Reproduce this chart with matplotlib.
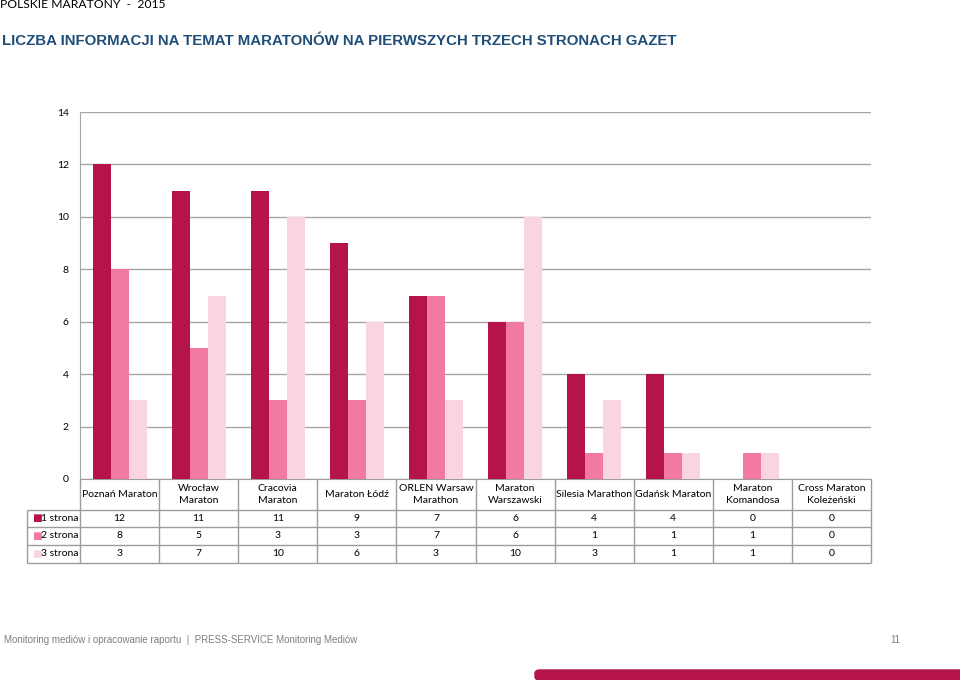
import matplotlib.pyplot as plt
from matplotlib.patches import FancyBboxPatch

categories = ['Poznań Maraton', 'Wrocław\nMaraton', 'Cracovia\nMaraton', 'Maraton Łódź',
              'ORLEN Warsaw\nMarathon', 'Maraton\nWarszawski', 'Silesia Marathon',
              'Gdańsk Maraton', 'Maraton\nKomandosa', 'Cross Maraton\nKoleżeński']
series_names = ['1 strona', '2 strona', '3 strona']
strona1 = [12, 11, 11, 9, 7, 6, 4, 4, 0, 0]
strona2 = [8, 5, 3, 3, 7, 6, 1, 1, 1, 0]
strona3 = [3, 7, 10, 6, 3, 10, 3, 1, 1, 0]
yticks = [0, 2, 4, 6, 8, 10, 12, 14]

colors = ['#B5134B', '#F279A1', '#FBD4E1']
series = [strona1, strona2, strona3]
txt_font = ['Lato', 'DejaVu Sans']
narrow = ['Liberation Sans Narrow', 'Liberation Sans']
grid_c = '#A6A6A6'
tab_c = '#9C9C9C'

fig = plt.figure(figsize=(9.6, 6.8), dpi=100)
ax = fig.add_axes([80 / 960, 1 - 479 / 680, 791 / 960, 367 / 680])

n = len(categories)
bw = 0.2275
for k, vals in enumerate(series):
    xs = [i + (k - 1) * bw for i in range(n)]
    ax.bar(xs, vals, width=bw, color=colors[k], zorder=3)

ax.set_xlim(-0.5, n - 0.5)
ax.set_ylim(0, 14)
ax.set_yticks(yticks)
ax.set_yticklabels([str(t) for t in yticks], family=txt_font, fontsize=7.5)
ax.set_xticks([])
ax.tick_params(axis='y', length=0, pad=8)
ax.yaxis.grid(True, color=grid_c, linewidth=1, zorder=0)
for s in ['top', 'right']:
    ax.spines[s].set_visible(False)
ax.spines['left'].set_color(grid_c)
ax.spines['bottom'].set_color(tab_c)

# data table under the axis
tr = ax.get_xaxis_transform()
axh = 367
row_edges = [0, -31 / axh, -48 / axh, -66 / axh, -84 / axh]
left_col = -0.5 - 53 / 79.1
for y in row_edges[1:]:
    ax.hlines(y, left_col, n - 0.5, transform=tr, color=tab_c, linewidth=1, clip_on=False)
for i in range(n + 1):
    ax.vlines(i - 0.5, row_edges[-1], 0, transform=tr, color=tab_c, linewidth=1, clip_on=False)
ax.vlines(left_col, row_edges[-1], row_edges[1], transform=tr, color=tab_c, linewidth=1, clip_on=False)

hy = (row_edges[0] + row_edges[1]) / 2
for i, c in enumerate(categories):
    ax.text(i, hy, c, transform=tr, ha='center', va='center', fontsize=7.5,
            family=txt_font, linespacing=1.45)

for k, vals in enumerate(series):
    ry = (row_edges[k + 1] + row_edges[k + 2]) / 2
    ax.text(left_col + 0.06, ry, '■', transform=tr, ha='left', va='center',
            fontsize=7.5, color=colors[k], family='DejaVu Sans')
    ax.text(left_col + 0.18, ry, series_names[k], transform=tr, ha='left', va='center',
            fontsize=7.5, family=txt_font)
    for i, v in enumerate(vals):
        ax.text(i, ry, str(v), transform=tr, ha='center', va='center', fontsize=7.5,
                family=txt_font)

# page header / footer
fig.text(0, 1 - 5 / 680, 'POLSKIE MARATONY  -  2015', ha='left', va='center',
         fontsize=8.7, family=txt_font)
fig.text(2 / 960, 1 - 41 / 680,
         'LICZBA INFORMACJI NA TEMAT MARATONÓW NA PIERWSZYCH TRZECH STRONACH GAZET',
         ha='left', va='center', fontsize=10.8, fontweight='bold', color='#1F4E79',
         family=narrow)
fig.text(4 / 960, 1 - 640 / 680,
         'Monitoring mediów i opracowanie raportu  |  PRESS-SERVICE Monitoring Mediów',
         ha='left', va='center', fontsize=7, color='#7F7F7F', family=narrow)
fig.text(900 / 960, 1 - 640 / 680, '11', ha='right', va='center', fontsize=7,
         color='#7F7F7F', family=narrow)
fig.patches.append(FancyBboxPatch((535 / 960, 0), 440 / 960, 10 / 680,
                                  boxstyle='round,pad=0,rounding_size=0.005',
                                  transform=fig.transFigure, color='#B5134B'))

fig.savefig('out.png', dpi=100)
